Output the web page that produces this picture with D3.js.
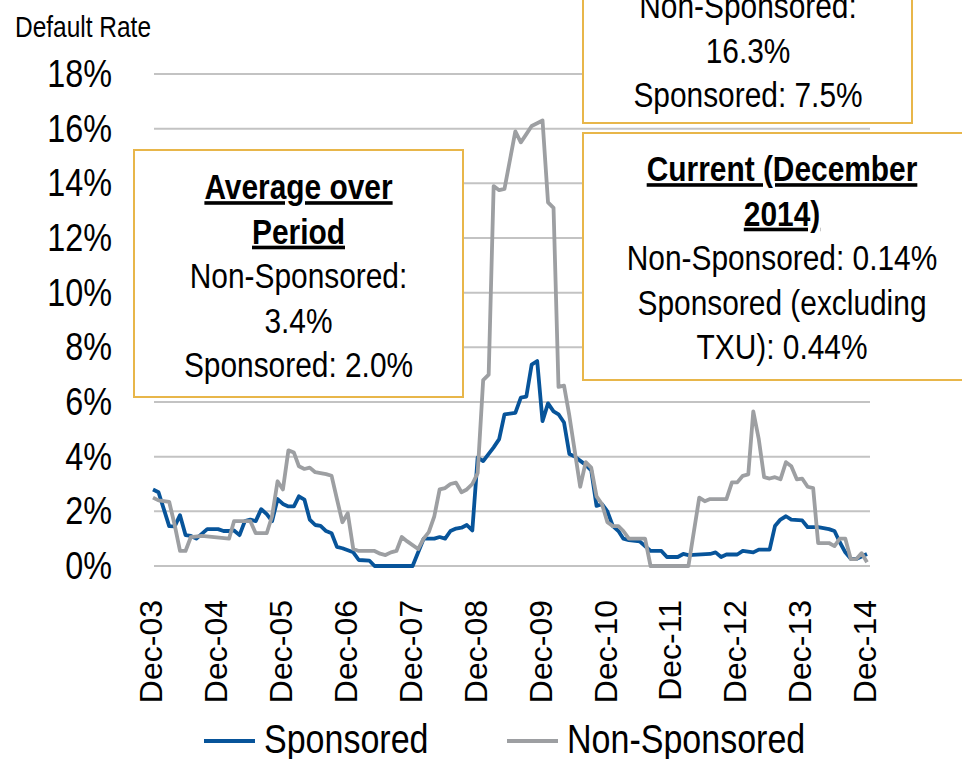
<!DOCTYPE html>
<html>
<head>
<meta charset="utf-8">
<script src="https://cdn.jsdelivr.net/npm/d3@7"></script>
<style>
  html, body { margin: 0; padding: 0; background: #fff; }
  svg { display: block; }
  text { font-family: "Liberation Sans", Arial, sans-serif; }
</style>
</head>
<body>
<div id="chart"></div>
<script>
// default rate by month (percent)
var sponsored = [
  ["2003-12", 2.8], ["2004-01", 2.7], ["2004-03", 1.46], ["2004-04", 1.45], ["2004-05", 1.86],
  ["2004-06", 1.13], ["2004-07", 1.1], ["2004-08", 1.0], ["2004-10", 1.35], ["2004-12", 1.35],
  ["2005-01", 1.28], ["2005-02", 1.28], ["2005-03", 1.3], ["2005-04", 1.13], ["2005-05", 1.64],
  ["2005-06", 1.7], ["2005-07", 1.64], ["2005-08", 2.08], ["2005-09", 1.9], ["2005-10", 1.64],
  ["2005-11", 2.45], ["2005-12", 2.27], ["2006-01", 2.18], ["2006-02", 2.18], ["2006-03", 2.55],
  ["2006-04", 2.43], ["2006-05", 1.7], ["2006-06", 1.5], ["2006-07", 1.47], ["2006-08", 1.28],
  ["2006-09", 1.2], ["2006-10", 0.7], ["2006-11", 0.65], ["2007-01", 0.5], ["2007-02", 0.22],
  ["2007-04", 0.2], ["2007-05", 0.0], ["2007-12", 0.0], ["2008-02", 1.0], ["2008-04", 1.0],
  ["2008-05", 1.06], ["2008-06", 1.0], ["2008-07", 1.28], ["2008-08", 1.37], ["2008-09", 1.4],
  ["2008-10", 1.5], ["2008-11", 1.3], ["2008-12", 3.97], ["2009-01", 3.84], ["2009-03", 4.34],
  ["2009-04", 4.64], ["2009-05", 5.55], ["2009-07", 5.6], ["2009-08", 6.16], ["2009-09", 6.2],
  ["2009-10", 7.37], ["2009-11", 7.5], ["2009-12", 5.3], ["2010-01", 5.95], ["2010-02", 5.66],
  ["2010-03", 5.55], ["2010-04", 5.25], ["2010-05", 4.1], ["2010-06", 4.0], ["2010-08", 3.7],
  ["2010-09", 3.5], ["2010-10", 2.2], ["2010-11", 2.26], ["2010-12", 2.0], ["2011-01", 1.46],
  ["2011-02", 1.28], ["2011-03", 1.0], ["2011-04", 0.95], ["2011-06", 0.9], ["2011-08", 0.55],
  ["2011-10", 0.55], ["2011-11", 0.33], ["2012-01", 0.33], ["2012-02", 0.44], ["2012-03", 0.4],
  ["2012-07", 0.44], ["2012-08", 0.5], ["2012-09", 0.33], ["2012-10", 0.42], ["2012-12", 0.42],
  ["2013-01", 0.55], ["2013-03", 0.5], ["2013-04", 0.6], ["2013-06", 0.6], ["2013-07", 1.46],
  ["2013-08", 1.7], ["2013-09", 1.82], ["2013-10", 1.7], ["2013-12", 1.67], ["2014-01", 1.42],
  ["2014-03", 1.42], ["2014-05", 1.35], ["2014-06", 1.28], ["2014-07", 0.87], ["2014-08", 0.5],
  ["2014-09", 0.26], ["2014-10", 0.26], ["2014-11", 0.35], ["2014-12", 0.44]
];

var nonSponsored = [
  ["2003-12", 2.5], ["2004-01", 2.4], ["2004-03", 2.35], ["2004-04", 1.5], ["2004-05", 0.55],
  ["2004-06", 0.55], ["2004-07", 1.06], ["2004-09", 1.1], ["2005-02", 1.0], ["2005-03", 1.64],
  ["2005-06", 1.64], ["2005-07", 1.2], ["2005-09", 1.2], ["2005-10", 1.82], ["2005-11", 3.1],
  ["2005-12", 2.8], ["2006-01", 4.23], ["2006-02", 4.15], ["2006-03", 3.65], ["2006-04", 3.55],
  ["2006-05", 3.6], ["2006-06", 3.43], ["2006-07", 3.4], ["2006-08", 3.36], ["2006-09", 3.3],
  ["2006-10", 2.45], ["2006-11", 1.6], ["2006-12", 1.93], ["2007-01", 0.62], ["2007-02", 0.55],
  ["2007-05", 0.55], ["2007-06", 0.45], ["2007-07", 0.4], ["2007-08", 0.5], ["2007-09", 0.55],
  ["2007-10", 1.06], ["2007-11", 0.9], ["2008-01", 0.62], ["2008-02", 1.0], ["2008-03", 1.24],
  ["2008-04", 1.82], ["2008-05", 2.8], ["2008-06", 2.85], ["2008-07", 3.0], ["2008-08", 3.05],
  ["2008-09", 2.7], ["2008-10", 2.8], ["2008-11", 3.0], ["2008-12", 3.4], ["2009-01", 6.8],
  ["2009-02", 7.0], ["2009-03", 13.9], ["2009-04", 13.75], ["2009-05", 13.8], ["2009-07", 15.9],
  ["2009-08", 15.5], ["2009-09", 15.8], ["2009-10", 16.1], ["2009-11", 16.2], ["2009-12", 16.3],
  ["2010-01", 13.3], ["2010-02", 13.1], ["2010-03", 6.55], ["2010-04", 6.6], ["2010-05", 5.5],
  ["2010-07", 2.9], ["2010-08", 3.8], ["2010-09", 3.6], ["2010-10", 2.55], ["2010-11", 2.26],
  ["2010-12", 1.6], ["2011-01", 1.46], ["2011-02", 1.46], ["2011-03", 1.28], ["2011-04", 1.0],
  ["2011-07", 1.0], ["2011-08", 0.0], ["2012-03", 0.0], ["2012-05", 2.5], ["2012-06", 2.37],
  ["2012-07", 2.45], ["2012-10", 2.45], ["2012-11", 3.06], ["2012-12", 3.06], ["2013-01", 3.3],
  ["2013-02", 3.35], ["2013-03", 5.66], ["2013-04", 4.64], ["2013-05", 3.25], ["2013-06", 3.2],
  ["2013-07", 3.25], ["2013-08", 3.17], ["2013-09", 3.8], ["2013-10", 3.65], ["2013-11", 3.17],
  ["2013-12", 3.2], ["2014-01", 2.9], ["2014-02", 2.85], ["2014-03", 0.84], ["2014-05", 0.84],
  ["2014-06", 0.73], ["2014-07", 1.0], ["2014-08", 1.0], ["2014-09", 0.25], ["2014-10", 0.25],
  ["2014-11", 0.47], ["2014-12", 0.14]
];

var xTicks = ["2003-12", "2004-12", "2005-12", "2006-12", "2007-12", "2008-12",
              "2009-12", "2010-12", "2011-12", "2012-12", "2013-12", "2014-12"];
var yTicks = [0, 2, 4, 6, 8, 10, 12, 14, 16, 18];

var averageBox = ["Non-Sponsored:", "3.4%", "Sponsored: 2.0%"];
var peakBox = ["Non-Sponsored:", "16.3%", "Sponsored: 7.5%"];
var currentBox = ["Non-Sponsored: 0.14%", "Sponsored (excluding", "TXU): 0.44%"];

var width = 962, height = 759;
var blue = "#07549a", grey = "#9d9fa2", gold = "#e8b64a";
var squeeze = 0.83; // the original uses a narrow face, no narrow font here so scale it

var parse = d3.timeParse("%Y-%m");

var svg = d3.select("#chart").append("svg")
    .attr("width", width)
    .attr("height", height);

var x = d3.scaleTime()
    .domain([parse("2003-12"), parse("2014-12")])
    .range([153, 867]);

var y = d3.scaleLinear()
    .domain([0, 18])
    .range([566, 74]);

// squeeze a text horizontally around its own anchor point
function narrow(sel) {
  sel.each(function() {
    var t = d3.select(this);
    var tx = +t.attr("x") || 0, ty = +t.attr("y") || 0;
    t.attr("x", 0).attr("y", 0)
     .attr("transform", "translate(" + tx + "," + ty + ") scale(" + squeeze + ",1)");
  });
}

// gridlines
svg.append("g")
  .selectAll("line")
  .data(yTicks)
  .enter().append("line")
    .attr("x1", 154)
    .attr("x2", 870)
    .attr("y1", d => y(d))
    .attr("y2", d => y(d))
    .attr("stroke", "#c3c3c3")
    .attr("stroke-width", 2);

// y axis labels
var yAxis = svg.append("g")
    .attr("transform", "translate(112,0)")
    .call(d3.axisLeft(y).tickValues(yTicks).tickFormat(d => d + "%").tickSize(0).tickPadding(0));
yAxis.select(".domain").remove();
yAxis.attr("font-family", null);
yAxis.selectAll("text")
    .attr("font-size", 39)
    .attr("fill", "#000")
    .call(narrow);

svg.append("text")
    .attr("x", 15)
    .attr("y", 37)
    .attr("font-size", 29.5)
    .text("Default Rate")
    .call(narrow);

// x axis, rotated month labels
var xAxis = svg.append("g")
    .attr("transform", "translate(0,566)")
    .call(d3.axisBottom(x).tickValues(xTicks.map(parse)).tickFormat(d3.timeFormat("Dec-%y")).tickSize(0));
xAxis.select(".domain").remove();
xAxis.attr("font-family", null);
xAxis.selectAll("text")
    .attr("font-size", 32)
    .attr("fill", "#000")
    .attr("text-anchor", "end")
    .attr("transform", "rotate(-90)")
    .attr("x", -34)
    .attr("y", 0)
    .attr("dy", "0.27em");

var line = d3.line()
    .x(d => x(parse(d[0])))
    .y(d => y(d[1]));

svg.append("path")
    .datum(sponsored)
    .attr("fill", "none")
    .attr("stroke", blue)
    .attr("stroke-width", 3.8)
    .attr("stroke-linejoin", "round")
    .attr("d", line);

svg.append("path")
    .datum(nonSponsored)
    .attr("fill", "none")
    .attr("stroke", grey)
    .attr("stroke-width", 3.8)
    .attr("stroke-linejoin", "round")
    .attr("d", line);

// annotation boxes
function box(x0, y0, w, h, cx, titles, lines, top) {
  var g = svg.append("g");
  g.append("rect")
      .attr("x", x0).attr("y", y0)
      .attr("width", w).attr("height", h)
      .attr("fill", "#fff")
      .attr("stroke", gold)
      .attr("stroke-width", 2);
  var all = titles.map(t => ({t: t, bold: true})).concat(lines.map(t => ({t: t, bold: false})));
  g.selectAll("text")
    .data(all)
    .enter().append("text")
      .attr("x", cx)
      .attr("y", (d, i) => top + i * 44.5)
      .attr("text-anchor", "middle")
      .attr("font-size", 36)
      .attr("font-weight", d => d.bold ? "bold" : "normal")
      .attr("text-decoration", d => d.bold ? "underline" : "none")
      .text(d => d.t)
      .call(narrow);
}

box(134, 150, 329, 247, 298.5, ["Average over", "Period"], averageBox, 199);
box(583, -130, 329, 253, 748, [], peakBox, 18);
box(583, 133, 420, 247, 782, ["Current (December", "2014)"], currentBox, 181);

// legend
var legend = [
  {name: "Sponsored", color: blue, x: 204},
  {name: "Non-Sponsored", color: grey, x: 507}
];
var lg = svg.append("g").selectAll("g")
  .data(legend)
  .enter().append("g");
lg.append("line")
    .attr("x1", d => d.x)
    .attr("x2", d => d.x + 51)
    .attr("y1", 741)
    .attr("y2", 741)
    .attr("stroke", d => d.color)
    .attr("stroke-width", 4);
lg.append("text")
    .attr("x", d => d.x + 60)
    .attr("y", 753)
    .attr("font-size", 41)
    .text(d => d.name)
    .call(narrow);
</script>
</body>
</html>
